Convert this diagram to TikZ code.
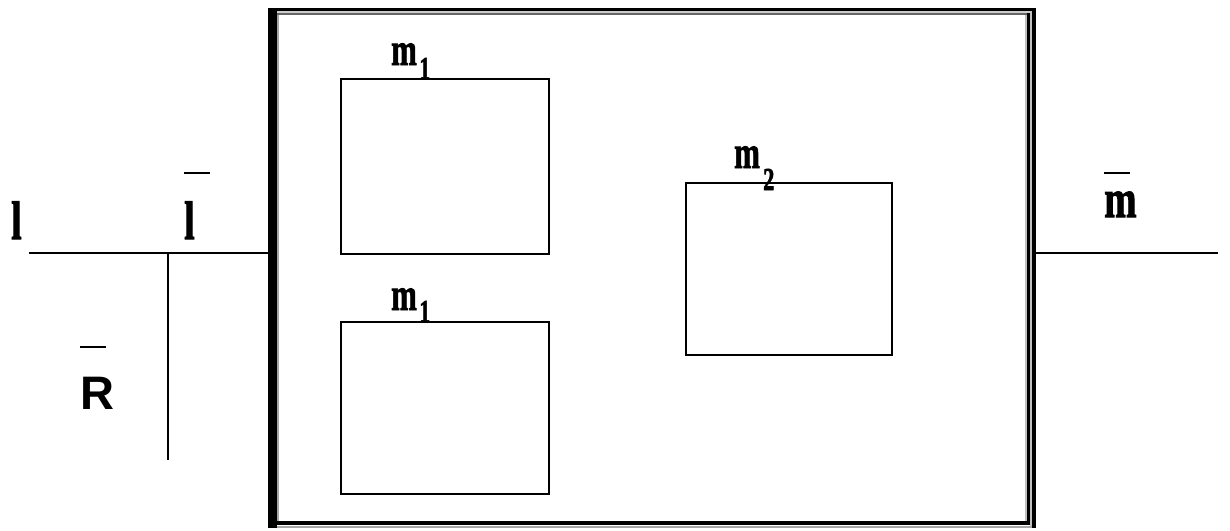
\documentclass[tikz,border=0pt]{standalone}
\usepackage{fontspec}
\usepackage{graphicx}
\setmainfont{Liberation Serif}
\setsansfont{Liberation Sans}
\newfontfamily\heavyserif[BoldFeatures={FakeBold=2}]{Liberation Serif}
\tikzset{
  px/.style={x=1pt,y=-1pt},
  wire/.style={line width=1.6pt,line cap=butt},
  boxm/.style={draw,line width=1.6pt},
  lbl/.style={inner sep=0pt,anchor=base west},
  bigtxt/.style={lbl,font=\fontsize{54}{54}\selectfont\heavyserif\bfseries},
  midtxt/.style={lbl,font=\fontsize{46}{46}\selectfont\heavyserif\bfseries},
  subtxt/.style={lbl,font=\fontsize{32}{32}\selectfont\heavyserif\bfseries},
  rtxt/.style={lbl,font=\fontsize{47}{47}\selectfont\sffamily\bfseries},
  barline/.style={line width=2pt}
}
\newcommand{\sqz}[2]{\scalebox{#1}[1]{#2}}
\begin{document}
\begin{tikzpicture}[px]
\useasboundingbox (0,0) rectangle (1230,530);
% outer frame
\fill[black] (268,8) rectangle (277,528);
\fill[black] (268,8) rectangle (1033,10.5);
\fill[black!20] (277,10.5) rectangle (1031,13);
\fill[black!60] (277,13) rectangle (1027,15);
\fill[black!35] (277,15) rectangle (279,521);
\fill[black!25] (1025,15) rectangle (1027,521);
\fill[black] (1027,13) rectangle (1030,525);
\fill[black] (277,521) rectangle (1030,525);
\fill[black!25] (1030,10.5) rectangle (1032,527);
\fill[black] (1032,8) rectangle (1036,528);
\fill[black!35] (277,525.5) rectangle (1032,528);
% inner boxes
\node[boxm,minimum width=208pt,minimum height=175pt,inner sep=0pt,anchor=north west] (b1) at (340,78) {};
\node[boxm,minimum width=208pt,minimum height=172pt,inner sep=0pt,anchor=north west] (b2) at (340,321) {};
\node[boxm,minimum width=206pt,minimum height=172pt,inner sep=0pt,anchor=north west] (b3) at (685,182) {};
% frame anchors
\coordinate (fl) at (268,253);
\coordinate (fr) at (1036,253);
\coordinate (lin) at (29,253);
\coordinate (rout) at (1218,253);
\coordinate (j) at (168,253);
\coordinate (jd) at (168,460);
\draw[wire] (lin) -- (fl);
\draw[wire] (j) -- (jd);
\draw[wire] (fr) -- (rout);
% labels
\node[bigtxt] (l0) at (11,239) {\sqz{0.7}{l}};
\node[bigtxt] (l1) at (184,239) {\sqz{0.7}{l}};
\draw[barline] (184,173) -- (210,173);
\node[bigtxt] (mb) at (1104,217) {\sqz{0.72}{m}};
\draw[barline] (1104,173) -- (1130,173);
\node[rtxt] (R) at (80,409) {R};
\draw[barline] (80,347) -- (106,347);
\node[midtxt] (m1a) at (391,65) {\sqz{0.67}{m}};
\node[subtxt] (s1a) at (419,79) {\sqz{0.7}{1}};
\node[midtxt] (m1b) at (391,310) {\sqz{0.67}{m}};
\node[subtxt] (s1b) at (419,322) {\sqz{0.7}{1}};
\node[midtxt] (m2) at (734,168) {\sqz{0.67}{m}};
\node[subtxt] (s2) at (763,190) {\sqz{0.7}{2}};
\end{tikzpicture}
\end{document}
